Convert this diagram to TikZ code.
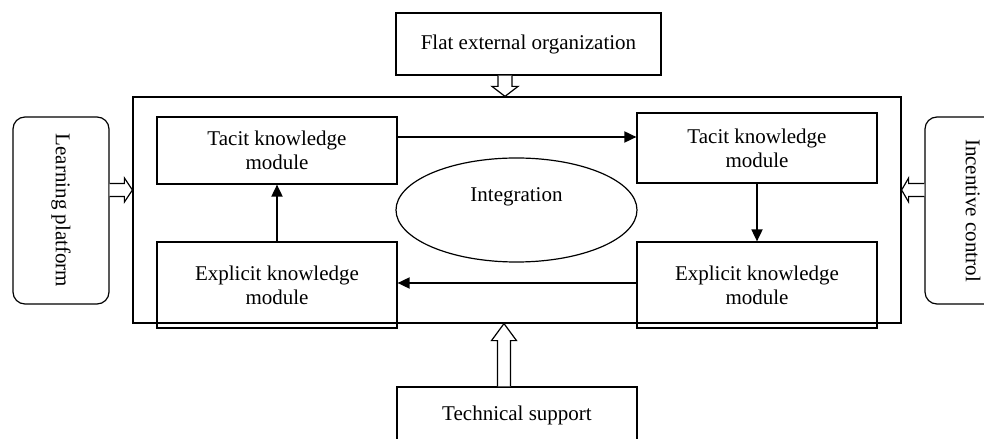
\documentclass[tikz,border=0pt]{standalone}
\usepackage{fontspec}
\setmainfont{Liberation Serif}
\usetikzlibrary{shapes.geometric,arrows.meta,calc}
\begin{document}
\begin{tikzpicture}[x=1bp,y=-1bp,
  box/.style={draw,line width=1.2bp,rectangle,align=center,inner sep=0pt},
  rbox/.style={box,rounded corners=12bp},
  arr/.style={line width=1.8bp,-{Triangle[length=12bp,width=11bp]}},
  hollow/.style={draw,line width=1.2bp,fill=white,line join=miter},
  every node/.style={font=\fontsize{21bp}{24bp}\selectfont}]
\useasboundingbox (0,0) rectangle (984,439);
% outer frame
\node[box,minimum width=768bp,minimum height=226bp] (outer) at (517,210) {};
% surrounding boxes
\node[box,minimum width=265bp,minimum height=62bp] (top) at (528.5,44) {Flat external organization};
\node[box,minimum width=240bp,minimum height=56bp] (tech) at (517,415) {Technical support};
\node[rbox,minimum width=96bp,minimum height=187bp] (learn) at (61,210.5) {};
\node[rotate=-90] (learnt) at (learn.center) {Learning platform};
\node[rbox,minimum width=96bp,minimum height=187bp] (incent) at (973,210.5) {};
\node[rotate=-90] (incentt) at (incent.center) {Incentive control};
% inner modules
\node[box,minimum width=240bp,minimum height=67bp] (tl) at (277,150.5) {Tacit knowledge\\module};
\node[box,minimum width=240bp,minimum height=70bp] (tr) at (757,148) {Tacit knowledge\\module};
\node[box,minimum width=240bp,minimum height=86bp] (el) at (277,285) {Explicit knowledge\\module};
\node[box,minimum width=240bp,minimum height=86bp] (er) at (757,285) {Explicit knowledge\\module};
\node[draw,ellipse,line width=1.2bp,minimum width=241bp,minimum height=104bp,inner sep=0pt,
      label={[yshift=13bp]center:Integration}] (ell) at (516.5,210) {};
% solid arrows
\draw[arr] (tl.east |- 0,137) -- (tr.west |- 0,137);
\draw[arr] (tr.south) -- (er.north);
\draw[arr] (er.west |- 0,283) -- (el.east |- 0,283);
\draw[arr] (el.north) -- (tl.south);
% hollow arrows
\coordinate (ta) at (top.south -| 505,0);
\coordinate (tb) at (outer.north -| 505,0);
\draw[hollow] ($(ta)+(-7,0)$) -- ($(tb)+(-7,-10)$) -- ($(tb)+(-13,-10)$) -- (tb)
  -- ($(tb)+(13,-10)$) -- ($(tb)+(7,-10)$) -- ($(ta)+(7,0)$);
\coordinate (ba) at (tech.north -| 504,0);
\coordinate (bb) at (outer.south -| 504,0);
\draw[hollow] ($(ba)+(-6.5,0)$) -- ($(bb)+(-6.5,17)$) -- ($(bb)+(-12.5,17)$) -- (bb)
  -- ($(bb)+(12.5,17)$) -- ($(bb)+(6.5,17)$) -- ($(ba)+(6.5,0)$);
\coordinate (la) at (learn.east |- 0,190);
\coordinate (lb) at (outer.west |- 0,190);
\draw[hollow] ($(la)+(0,-6.5)$) -- ($(lb)+(-8,-6.5)$) -- ($(lb)+(-8,-12)$) -- (lb)
  -- ($(lb)+(-8,12)$) -- ($(lb)+(-8,6.5)$) -- ($(la)+(0,6.5)$);
\coordinate (ra) at (incent.west |- 0,190);
\coordinate (rb) at (outer.east |- 0,190);
\draw[hollow] ($(ra)+(0,-6.5)$) -- ($(rb)+(7,-6.5)$) -- ($(rb)+(7,-12)$) -- (rb)
  -- ($(rb)+(7,12)$) -- ($(rb)+(7,6.5)$) -- ($(ra)+(0,6.5)$);
\end{tikzpicture}
\end{document}
